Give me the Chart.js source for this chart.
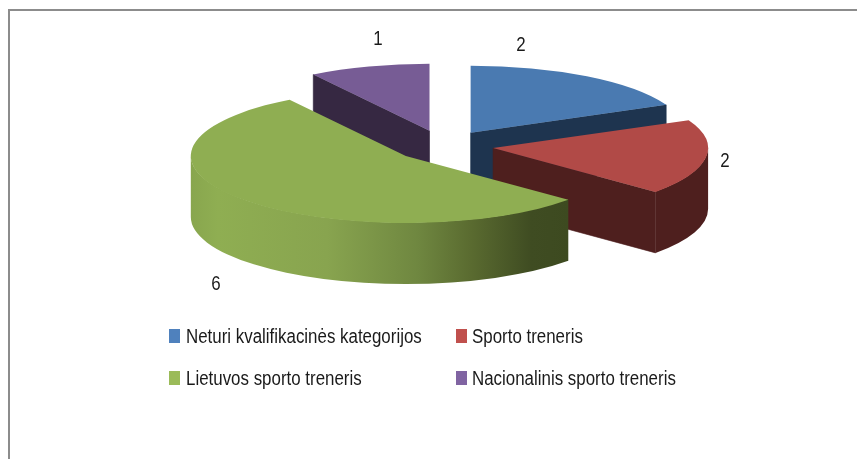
<!DOCTYPE html>
<html>
<head>
<meta charset="utf-8">
<script src="https://cdn.jsdelivr.net/npm/chart.js@4"></script>
<style>
  html, body { margin: 0; background: #fff; overflow: hidden; }
  #frame { position: absolute; left: 8px; top: 9px; right: 0; bottom: 0; border-top: 2px solid #8c8c8c; border-left: 2px solid #8c8c8c; }
  canvas { position: absolute; left: 0; top: 0; }
</style>
</head>
<body>
<div id="frame"></div>
<canvas id="pieChart" width="857" height="459"></canvas>
<script>
// Datos del gráfico
const categories = ['Neturi kvalifikacinės kategorijos', 'Sporto treneris', 'Lietuvos sporto treneris', 'Nacionalinis sporto treneris'];
const seriesValues = [2, 2, 6, 1];

// Colores
const topColors = ['#4a7ab1', '#b14a47', '#8fae52', '#775c95'];
const wallColors = ['#1e344f', '#4e1f1e', '#3f4c22', '#362842'];
const legendColors = ['#4f81bd', '#c0504d', '#9bbb59', '#8064a2'];

// Vista en perspectiva del pastel
const view = { x: 443.6, y: 145.8, radius: 215, squash: 0.3116, explode: 50, depth: 61 };
const drawOrder = [3, 0, 1, 2];
const valueLabelPos = [[521, 45], [725, 161], [216, 284], [378, 39]];
const legendPos = [[169, 336], [456, 336], [169, 378], [456, 378]];
const legendTextGap = [17, 16, 17, 16];
const textFont = '20px "Liberation Sans", sans-serif';
const textNarrow = 0.845;

function apexOf(arc) {
  const mid = (arc.startAngle + arc.endAngle) / 2;
  return {
    x: view.x + view.explode * Math.cos(mid),
    y: view.y + view.explode * view.squash * Math.sin(mid)
  };
}

function drawEdgeWall(ctx, apex, rx, angle, color) {
  const ex = apex.x + rx * Math.cos(angle);
  const ey = apex.y + rx * view.squash * Math.sin(angle);
  ctx.fillStyle = color;
  ctx.strokeStyle = color;
  ctx.lineWidth = 0.6;
  ctx.beginPath();
  ctx.moveTo(apex.x, apex.y);
  ctx.lineTo(ex, ey);
  ctx.lineTo(ex, ey + view.depth);
  ctx.lineTo(apex.x, apex.y + view.depth);
  ctx.closePath();
  ctx.fill();
  ctx.stroke();
}

function greenWallFill(ctx) {
  const g = ctx.createLinearGradient(191, 0, 569, 0);
  g.addColorStop(0, '#88a64e');
  g.addColorStop(0.07, '#8fae52');
  g.addColorStop(0.36, '#88a44f');
  g.addColorStop(0.6, '#6f8740');
  g.addColorStop(0.74, '#5a6b30');
  g.addColorStop(0.9, '#3f4c22');
  g.addColorStop(1, '#3d4a20');
  return g;
}

// Texto angostado, la fuente original no está instalada
function narrowText(ctx, text, x, y) {
  ctx.save();
  ctx.translate(x, y);
  ctx.scale(textNarrow, 1);
  ctx.fillText(text, 0, 0);
  ctx.restore();
}

const pie3dPlugin = {
  id: 'pie3d',
  beforeDatasetsDraw(chart) {
    const ctx = chart.ctx;
    const arcs = chart.getDatasetMeta(0).data;
    drawOrder.forEach(i => {
      const arc = arcs[i];
      const apex = apexOf(arc);
      const rx = arc.outerRadius, ry = rx * view.squash;

      // Paredes del corte (solo las que miran al frente)
      if (Math.cos(arc.endAngle) > 0.001) drawEdgeWall(ctx, apex, rx, arc.endAngle, wallColors[i]);
      if (Math.cos(arc.startAngle) < -0.001) drawEdgeWall(ctx, apex, rx, arc.startAngle, wallColors[i]);

      // Pared exterior, medio pixel debajo de la cara para que no quede costura
      const from = Math.max(arc.startAngle, 0);
      const to = Math.min(arc.endAngle, Math.PI);
      if (to > from) {
        ctx.fillStyle = i === 2 ? greenWallFill(ctx) : wallColors[i];
        ctx.beginPath();
        ctx.ellipse(apex.x, apex.y - 0.5, rx, ry, 0, from, to);
        ctx.ellipse(apex.x, apex.y + view.depth, rx, ry, 0, to, from, true);
        ctx.closePath();
        ctx.fill();
      }

      // Cara superior, la dibuja el propio elemento
      ctx.save();
      ctx.translate(apex.x, apex.y);
      ctx.scale(1, view.squash);
      ctx.translate(-arc.x, -arc.y);
      arc.draw(ctx);
      ctx.restore();
    });

    // Etiquetas de valor
    ctx.save();
    ctx.font = textFont;
    ctx.fillStyle = '#1a1a1a';
    ctx.textAlign = 'center';
    ctx.textBaseline = 'middle';
    seriesValues.forEach((v, i) => narrowText(ctx, String(v), valueLabelPos[i][0], valueLabelPos[i][1]));
    ctx.restore();

    // Leyenda
    ctx.save();
    ctx.font = textFont;
    ctx.textBaseline = 'middle';
    categories.forEach((name, i) => {
      const [x, y] = legendPos[i];
      ctx.fillStyle = legendColors[i];
      ctx.fillRect(x, y - 7, 11, 14);
      ctx.fillStyle = '#1a1a1a';
      narrowText(ctx, name, x + legendTextGap[i], y + 1);
    });
    ctx.restore();
    return false;
  }
};

new Chart(document.getElementById('pieChart').getContext('2d'), {
  type: 'pie',
  data: {
    labels: categories,
    datasets: [{
      data: seriesValues,
      backgroundColor: topColors,
      borderWidth: 0
    }]
  },
  options: {
    responsive: false,
    animation: false,
    radius: view.radius,
    plugins: {
      legend: { display: false },
      tooltip: { enabled: false }
    }
  },
  plugins: [pie3dPlugin]
});
</script>
</body>
</html>
